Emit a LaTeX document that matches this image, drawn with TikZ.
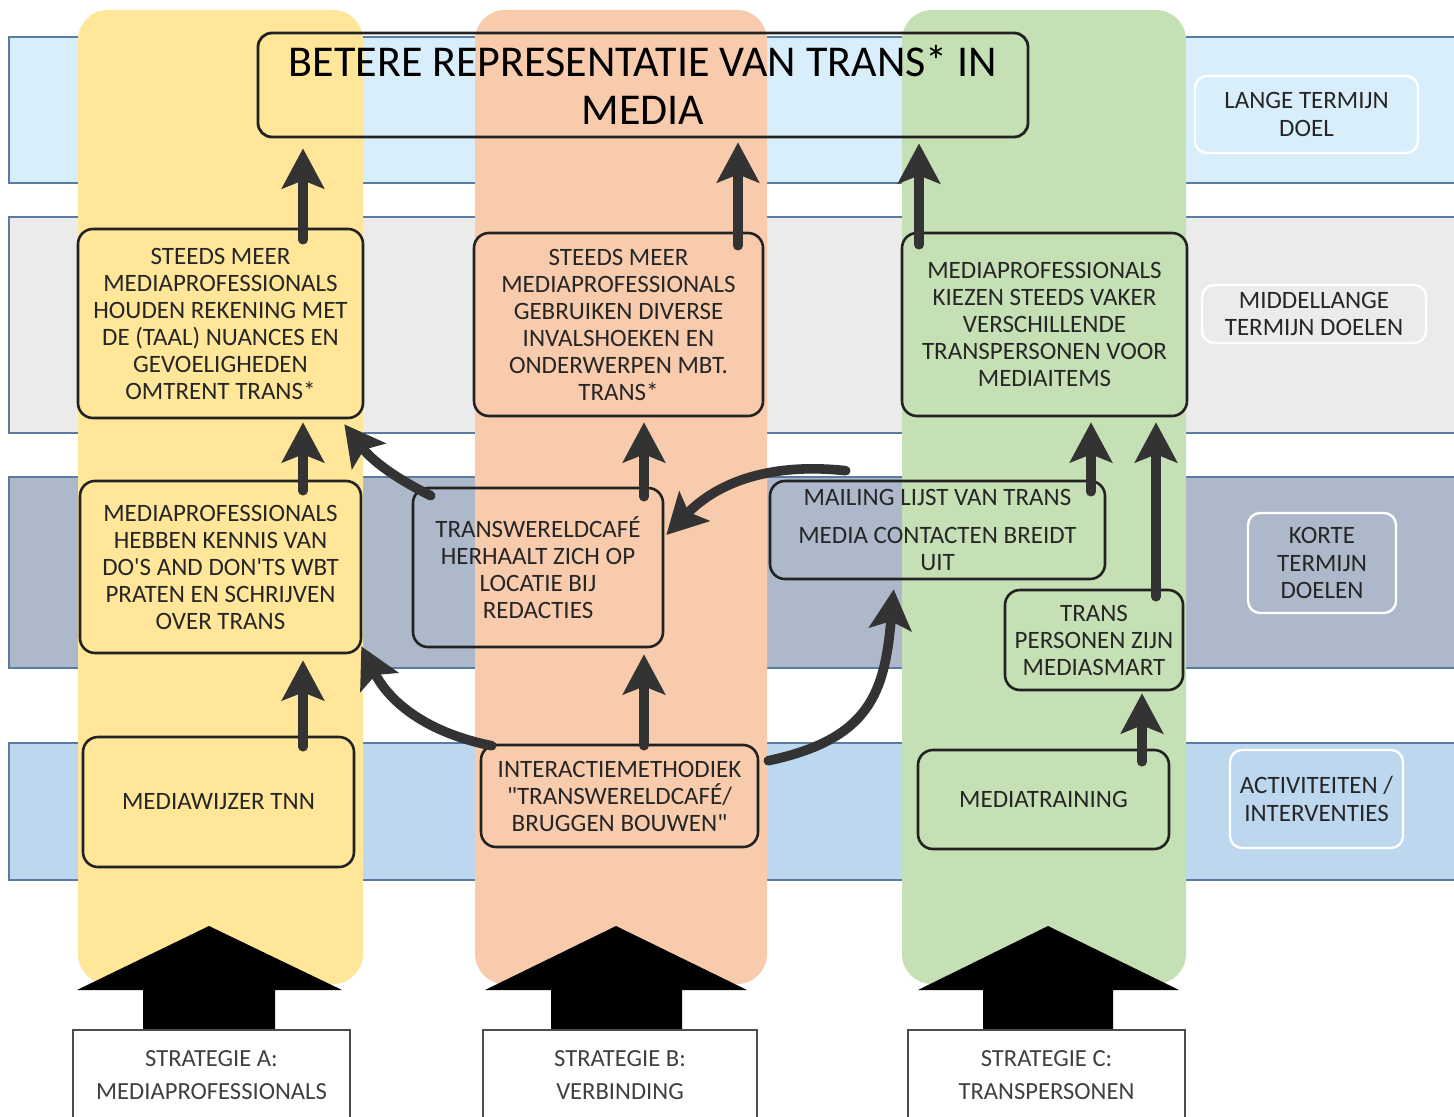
\documentclass[tikz,border=0pt]{standalone}
\usepackage{fontspec}
\setmainfont{Carlito}[Ligatures=TeXOff]
\usetikzlibrary{arrows.meta,calc}
\definecolor{bandA}{HTML}{D9EEFB}
\definecolor{bandB}{HTML}{EBEBEB}
\definecolor{bandC}{HTML}{ADB9CA}
\definecolor{bandD}{HTML}{BDD7EE}
\definecolor{bandline}{HTML}{5A7CA3}
\definecolor{colA}{HTML}{FFE699}
\definecolor{colB}{HTML}{F8CBAD}
\definecolor{colC}{HTML}{C5E0B4}
\definecolor{arrowc}{HTML}{333333}
\definecolor{inkc}{HTML}{262626}
\definecolor{edgec}{HTML}{222222}
\newcommand\pbox[7]{\node[#6, minimum width={(#4-#2)*0.5pt}, minimum height={(#5-#3)*0.5pt}] (#1) at ({(#2+#4)/2},{-(#3+#5)/2}) {#7};}
\begin{document}
\begin{tikzpicture}[x=0.5pt,y=0.5pt,
  goal/.style={draw=edgec, line width=1.3pt, rounded corners=7.5pt, inner sep=0pt, align=center, text=inkc, font=\fontsize{12.5}{13.5}\selectfont},
  titlebox/.style={draw=edgec, line width=1.4pt, rounded corners=7pt, inner sep=0pt, align=center, text=black, font=\fontsize{22}{24}\selectfont},
  lab/.style={draw=white, line width=1.2pt, rounded corners=6pt, inner sep=0pt, align=center, text=inkc, font=\fontsize{12.5}{13.8}\selectfont},
  strat/.style={draw=black!70, line width=0.7pt, fill=white, inner sep=0pt, align=center, text=black!75, font=\fontsize{12.3}{16.5}\selectfont},
  flow/.style={draw=arrowc, line width=4.8pt, line cap=round, -{Stealth[length=20pt,width=21pt,inset=4pt]}},
  bandedge/.style={draw=bandline, line width=1pt}]
\useasboundingbox (0,0) rectangle (1454,-1117);
\fill[white] (0,0) rectangle (1454,-1117);
% bands
\fill[bandA] (9,-37) rectangle (1454,-183);
\draw[bandedge] (1454,-37) -- (9,-37) -- (9,-183) -- (1454,-183);
\fill[bandB] (9,-217) rectangle (1454,-433);
\draw[bandedge] (1454,-217) -- (9,-217) -- (9,-433) -- (1454,-433);
\fill[bandC] (9,-477) rectangle (1454,-668);
\draw[bandedge] (1454,-477) -- (9,-477) -- (9,-668) -- (1454,-668);
\fill[bandD] (9,-743) rectangle (1454,-880);
\draw[bandedge] (1454,-743) -- (9,-743) -- (9,-880) -- (1454,-880);
% columns
\fill[colA, rounded corners=15pt] (78,-10) rectangle (363,-984);
\fill[colB, rounded corners=15pt] (475,-10) rectangle (767,-984);
\fill[colC, rounded corners=15pt] (902,-10) rectangle (1186,-984);
% title
\pbox{T}{258}{33}{1028}{137}{titlebox}{BETERE REPRESENTATIE VAN TRANS* IN\\MEDIA}
% column A
\pbox{A2}{78}{229}{363}{418}{goal, fill=colA}{STEEDS MEER\\MEDIAPROFESSIONALS\\HOUDEN REKENING MET\\DE (TAAL) NUANCES EN\\GEVOELIGHEDEN\\OMTRENT TRANS*}
\pbox{A3}{80}{481}{361}{653}{goal, fill=colA}{MEDIAPROFESSIONALS\\HEBBEN KENNIS VAN\\DO'S AND DON'TS WBT\\PRATEN EN SCHRIJVEN\\OVER TRANS}
\pbox{A4}{83}{737}{354}{867}{goal, fill=colA}{MEDIAWIJZER TNN}
% column B
\pbox{B2}{474}{233}{763}{416}{goal, fill=colB}{STEEDS MEER\\MEDIAPROFESSIONALS\\GEBRUIKEN DIVERSE\\INVALSHOEKEN EN\\ONDERWERPEN MBT.\\TRANS*}
\pbox{B3}{413}{488}{663}{647}{goal}{TRANSWERELDCAFÉ\\HERHAALT ZICH OP\\LOCATIE BIJ\\REDACTIES}
\pbox{B4}{481}{745}{758}{847}{goal, fill=colB}{INTERACTIEMETHODIEK\\"TRANSWERELDCAFÉ/\\BRUGGEN BOUWEN"}
% column C
\pbox{C2}{902}{233}{1187}{416}{goal, fill=colC}{MEDIAPROFESSIONALS\\KIEZEN STEEDS VAKER\\VERSCHILLENDE\\TRANSPERSONEN VOOR\\MEDIAITEMS}
\pbox{C3a}{770}{481}{1105}{579}{goal}{MAILING LIJST VAN TRANS\\[5.5pt]MEDIA CONTACTEN BREIDT\\UIT}
\pbox{C3b}{1005}{590}{1183}{690}{goal, fill=colC}{TRANS\\PERSONEN ZIJN\\MEDIASMART}
\pbox{C4}{918}{750}{1169}{849}{goal, fill=colC}{MEDIATRAINING}
% right labels
\pbox{L1}{1195}{76}{1418}{153}{lab}{LANGE TERMIJN\\DOEL}
\pbox{L2}{1202}{285}{1426}{343}{lab}{MIDDELLANGE\\TERMIJN DOELEN}
\pbox{L3}{1248}{513}{1396}{613}{lab}{KORTE\\TERMIJN\\DOELEN}
\pbox{L4}{1230}{750}{1403}{848}{lab}{ACTIVITEITEN /\\INTERVENTIES}
% straight arrows
\draw[flow] ([shift={(82.5,-12)}]A2.north) -- ([shift={(-340,-10)}]T.south);
\draw[flow] ([shift={(82.5,-11)}]A3.north) -- ([shift={(82.5,-3)}]A2.south);
\draw[flow] ([shift={(84.5,-11)}]A4.north) -- ([shift={(82.5,-6)}]A3.south);
\draw[flow] ([shift={(119.5,-14)}]B2.north) -- ([shift={(95,-4)}]T.south);
\draw[flow] ([shift={(-125.5,-13)}]C2.north) -- ([shift={(276,-5)}]T.south);
\draw[flow] ([shift={(106,-10)}]B3.north) -- ([shift={(25.5,-5)}]B2.south);
\draw[flow] ([shift={(24.5,-2)}]B4.north) -- ([shift={(106,-6)}]B3.south);
\draw[flow] ([shift={(153.5,-12)}]C3a.north) -- ([shift={(46.5,-5)}]C2.south);
\draw[flow] ([shift={(62,-8)}]C3b.north) -- ([shift={(111.5,-5)}]C2.south);
\draw[flow] ([shift={(98.5,-13)}]C4.north) -- ([shift={(48,-2)}]C3b.south);
% curved arrows
\draw[flow] ([shift={(19,-9)}]B3.north west) to[bend left=13] ([shift={(-20,-5)}]A2.south east);
\draw[flow] ([shift={(77,9)}]C3a.north west) to[bend right=26] ([shift={(2,32.5)}]B3.east);
\draw[flow] ([shift={(12,-2)}]B4.north west) to[bend left=26] ([shift={(-1,8)}]A3.south east);
\draw[flow] ([shift={(9,-17)}]B4.north east) to[out=12,in=-95,looseness=1.25] ([shift={(125,-9)}]C3a.south west);
% strategy block arrows
\fill[black] (209,-926) -- (342,-990) -- (275,-990) -- (275,-1031) -- (143,-1031) -- (143,-990) -- (77,-990) -- cycle;
\fill[black] (616,-926) -- (747,-990) -- (682,-990) -- (682,-1031) -- (551,-1031) -- (551,-990) -- (485,-990) -- cycle;
\fill[black] (1048,-926) -- (1179,-990) -- (1113,-990) -- (1113,-1031) -- (983,-1031) -- (983,-990) -- (918,-990) -- cycle;
\pbox{SA}{73}{1030}{350}{1121}{strat}{STRATEGIE A:\\MEDIAPROFESSIONALS}
\pbox{SB}{483}{1030}{757}{1121}{strat}{STRATEGIE B:\\VERBINDING}
\pbox{SC}{908}{1030}{1185}{1121}{strat}{STRATEGIE C:\\TRANSPERSONEN}
\end{tikzpicture}
\end{document}
